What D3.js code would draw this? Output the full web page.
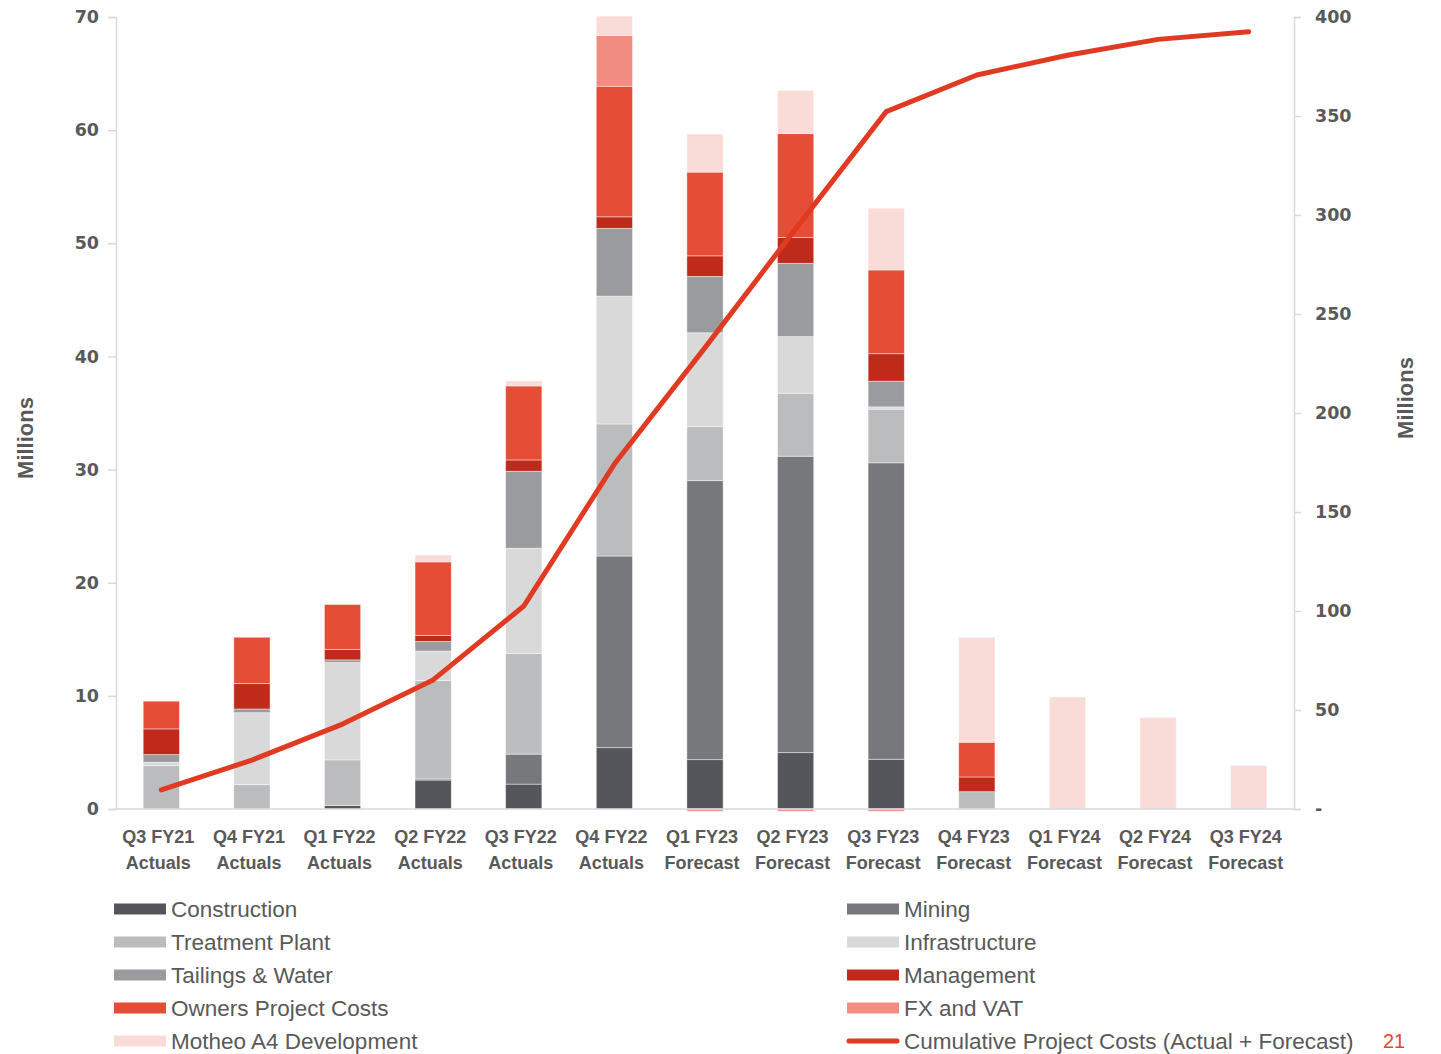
<!DOCTYPE html>
<html>
<head>
<meta charset="utf-8">
<script src="https://cdn.jsdelivr.net/npm/d3@7"></script>
<style>
  body { margin: 0; background: #fff; }
  svg { display: block; }
  .tick text { font-family: "DejaVu Sans", sans-serif; font-weight: bold; font-size: 17.5px; fill: #595959; }
  .cat { font-family: "Liberation Sans", Arial, sans-serif; font-weight: bold; font-size: 18px; fill: #595959; }
  .legend text { font-family: "Liberation Sans", Arial, sans-serif; font-size: 22.5px; fill: #595959; }
  .title { font-family: "Liberation Sans", Arial, sans-serif; font-weight: bold; font-size: 22px; fill: #595959; }
</style>
</head>
<body>
<div id="chart"></div>
<script>
// data (millions)
var categories = ['Q3 FY21', 'Q4 FY21', 'Q1 FY22', 'Q2 FY22', 'Q3 FY22', 'Q4 FY22', 'Q1 FY23',
    'Q2 FY23', 'Q3 FY23', 'Q4 FY23', 'Q1 FY24', 'Q2 FY24', 'Q3 FY24'];
var periods = ['Actuals', 'Actuals', 'Actuals', 'Actuals', 'Actuals', 'Actuals', 'Forecast',
    'Forecast', 'Forecast', 'Forecast', 'Forecast', 'Forecast', 'Forecast'];

var construction   = [0, 0, 0.3, 2.56, 2.2, 5.42, 4.36, 4.98, 4.4, 0, 0, 0, 0];
var mining         = [0, 0, 0, 0.1, 2.65, 16.94, 24.66, 26.2, 26.2, 0, 0, 0, 0];
var treatmentPlant = [3.83, 2.15, 4.04, 8.7, 8.9, 11.67, 4.77, 5.57, 4.74, 1.53, 0, 0, 0];
var infrastructure = [0.3, 6.36, 8.6, 2.6, 9.3, 11.3, 8.3, 5.0, 0.2, 0, 0, 0, 0];
var tailingsWater  = [0.68, 0.33, 0.24, 0.85, 6.8, 5.98, 4.98, 6.48, 2.27, 0, 0, 0, 0];
var management     = [2.27, 2.24, 0.91, 0.53, 1.0, 1.03, 1.82, 2.27, 2.43, 1.3, 0, 0, 0];
var ownersCosts    = [2.45, 4.1, 3.98, 6.5, 6.54, 11.54, 7.4, 9.19, 7.4, 3.07, 0, 0, 0];
var fxVat          = [0, 0, 0, 0, 0, 4.5, -0.2, -0.2, -0.2, 0, 0, 0, 0];
var motheo         = [0, 0, 0, 0.6, 0.44, 1.7, 3.36, 3.81, 5.46, 9.28, 9.9, 8.1, 3.85];
var cumulative     = [9.6, 24.7, 42.9, 65.2, 102.5, 174.2, 233, 293, 352.2, 370.7, 380.7, 388.7, 392.6];

var leftTicks = [0, 10, 20, 30, 40, 50, 60, 70];
var rightTicks = [0, 50, 100, 150, 200, 250, 300, 350, 400];

var series = [
    { key: 'Construction', values: construction, color: '#55565b' },
    { key: 'Mining', values: mining, color: '#77787c' },
    { key: 'Treatment Plant', values: treatmentPlant, color: '#bbbcbe' },
    { key: 'Infrastructure', values: infrastructure, color: '#d9d9d9' },
    { key: 'Tailings & Water', values: tailingsWater, color: '#9a9b9f' },
    { key: 'Management', values: management, color: '#bf2a1a' },
    { key: 'Owners Project Costs', values: ownersCosts, color: '#e54d37' },
    { key: 'FX and VAT', values: fxVat, color: '#f08c80' },
    { key: 'Motheo A4 Development', values: motheo, color: '#f9dbd8' }
];
var lineColor = '#e03a22';

var margin = { top: 17, left: 116, bottom: 245, right: 147 },
    width = 1441 - margin.left - margin.right,
    height = 1054 - margin.top - margin.bottom;

var svg = d3.select('#chart').append('svg')
    .attr('width', 1441)
    .attr('height', 1054);

var g = svg.append('g')
    .attr('transform', 'translate(' + margin.left + ',' + margin.top + ')');

var x = d3.scaleBand()
    .domain(categories)
    .range([0, width])
    .paddingInner(0.6)
    .paddingOuter(0.3);

var y = d3.scaleLinear().domain([0, 70]).range([height, 0]);
var y2 = d3.scaleLinear().domain([0, 400]).range([height, 0]);

// table for the stack
var table = categories.map((c, i) => {
    var row = { cat: c };
    series.forEach(s => { row[s.key] = s.values[i]; });
    return row;
});

var stacked = d3.stack()
    .keys(series.map(s => s.key))
    .offset(d3.stackOffsetDiverging)(table);

// axes
var yAxis = d3.axisLeft(y).tickValues(leftTicks).tickSize(8).tickPadding(9);
var gy = g.append('g').attr('class', 'axis').call(yAxis);
gy.select('.domain').attr('stroke', '#d9d9d9').attr('stroke-width', 1.5);
gy.selectAll('.tick line').attr('stroke', '#d9d9d9').attr('stroke-width', 1.5);

var yAxis2 = d3.axisRight(y2).tickValues(rightTicks).tickSize(7).tickPadding(14)
    .tickFormat(d => d === 0 ? '-' : d);
var gy2 = g.append('g').attr('class', 'axis')
    .attr('transform', 'translate(' + width + ',0)')
    .call(yAxis2);
gy2.select('.domain').attr('stroke', '#d9d9d9').attr('stroke-width', 1.5);
gy2.selectAll('.tick line').attr('stroke', '#d9d9d9').attr('stroke-width', 1.5);

// bars
g.selectAll('.layer')
    .data(stacked)
    .enter()
    .append('g')
    .attr('class', 'layer')
    .attr('fill', (d, i) => series[i].color)
    .selectAll('rect')
    .data(d => d.filter(p => p[1] - p[0] !== 0))
    .enter()
    .append('rect')
    .attr('x', d => x(d.data.cat))
    .attr('y', d => y(Math.max(d[0], d[1])))
    .attr('width', x.bandwidth())
    .attr('height', d => Math.abs(y(d[0]) - y(d[1])))
    .attr('stroke', 'rgba(255,255,255,0.55)')
    .attr('stroke-width', 0.8);

// baseline
g.append('line')
    .attr('x1', 0).attr('x2', width)
    .attr('y1', y(0)).attr('y2', y(0))
    .attr('stroke', '#d9d9d9').attr('stroke-width', 1.5);

// cumulative line
var line = d3.line()
    .x((d, i) => x(categories[i]) + x.bandwidth() / 2)
    .y(d => y2(d));

g.append('path')
    .datum(cumulative)
    .attr('fill', 'none')
    .attr('stroke', lineColor)
    .attr('stroke-width', 5)
    .attr('stroke-linecap', 'round')
    .attr('stroke-linejoin', 'round')
    .attr('d', line);

// category labels
var cats = g.append('g').selectAll('.cat')
    .data(categories)
    .enter()
    .append('text')
    .attr('class', 'cat')
    .attr('text-anchor', 'middle')
    .attr('transform', d => 'translate(' + (x(d) + x.bandwidth() / 2 - 3) + ',' + (height + 34) + ')');
cats.append('tspan').attr('x', 0).attr('y', 0).text(d => d);
cats.append('tspan').attr('x', 0).attr('y', 26).text((d, i) => periods[i]);

// axis titles
svg.append('text')
    .attr('class', 'title')
    .attr('text-anchor', 'middle')
    .attr('transform', 'translate(33,438) rotate(-90)')
    .text('Millions');

svg.append('text')
    .attr('class', 'title')
    .attr('text-anchor', 'middle')
    .attr('transform', 'translate(1413,398) rotate(-90)')
    .text('Millions');

// legend
var legendItems = series.map(s => ({ key: s.key, color: s.color, type: 'rect' }));
legendItems.push({ key: 'Cumulative Project Costs (Actual + Forecast)', color: lineColor, type: 'line' });

var legend = svg.append('g').attr('class', 'legend');
var item = legend.selectAll('.item')
    .data(legendItems)
    .enter()
    .append('g')
    .attr('class', 'item')
    .attr('transform', (d, i) => 'translate(' + (i % 2 === 0 ? 114 : 847) + ',' + (909 + Math.floor(i / 2) * 33) + ')');

item.filter(d => d.type === 'rect')
    .append('rect')
    .attr('x', 0).attr('y', -5.5)
    .attr('width', 52).attr('height', 11)
    .attr('fill', d => d.color);

item.filter(d => d.type === 'line')
    .append('line')
    .attr('x1', 2).attr('x2', 50)
    .attr('y1', 0).attr('y2', 0)
    .attr('stroke', d => d.color)
    .attr('stroke-width', 5)
    .attr('stroke-linecap', 'round');

item.append('text')
    .attr('x', 57)
    .attr('y', 0)
    .attr('dy', '0.35em')
    .text(d => d.key);

// page number
svg.append('text')
    .attr('x', 1383)
    .attr('y', 1048)
    .attr('fill', '#e8452c')
    .style('font-family', 'Liberation Sans, Arial, sans-serif')
    .style('font-size', '20px')
    .text('21');
</script>
</body>
</html>
